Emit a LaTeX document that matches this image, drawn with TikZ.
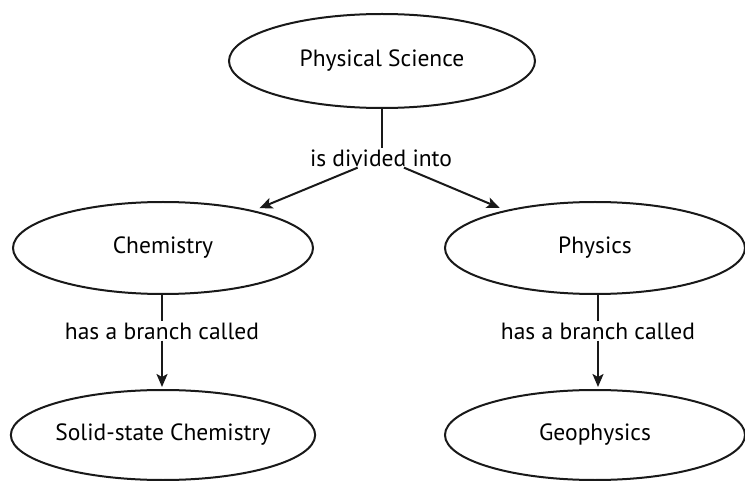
\documentclass[tikz,border=0pt]{standalone}
\usepackage{fontspec}
\setmainfont{PT Sans}
\usetikzlibrary{arrows.meta,shapes.geometric}
\begin{document}
\begin{tikzpicture}[x=1pt,y=-1pt,
  concept/.style={draw=black!90,line width=2pt,ellipse,inner sep=0pt,
    minimum width=300pt,minimum height=92pt,font=\fontsize{23.5}{28}\selectfont},
  linklabel/.style={inner sep=1pt,font=\fontsize{23.5}{28}\selectfont},
  link/.style={draw=black!90,line width=2pt},
  arrowlink/.style={link,-{Stealth[length=13pt,width=11pt,inset=3pt]}}]
\useasboundingbox (0,0) rectangle (745,481);
\node[concept,minimum width=306pt,minimum height=94pt] (ps) at (382,61) {Physical Science};
\node[linklabel] (div) at (381,158) {is divided into};
\node[concept] (chem) at (163,248) {Chemistry};
\node[concept] (phys) at (595,248) {Physics};
\node[linklabel] (b1) at (162,331) {has a branch called};
\node[linklabel] (b2) at (598,331) {has a branch called};
\node[concept,minimum height=90pt] (solid) at (163,435) {Solid-state Chemistry};
\node[concept,minimum height=90pt] (geo) at (595,435) {Geophysics};
\draw[link] (ps.south) -- (div.north -| ps.south);
\draw[arrowlink,shorten >=6pt] (div) -- (chem);
\draw[arrowlink,shorten >=6pt] (div) -- (phys);
\draw[link] (chem.south -| b1) -- (b1);
\draw[arrowlink,shorten >=2pt] (b1) -- (b1 |- solid.north);
\draw[link] (phys.south -| b2) -- (b2);
\draw[arrowlink,shorten >=2pt] (b2) -- (b2 |- geo.north);
\end{tikzpicture}
\end{document}
